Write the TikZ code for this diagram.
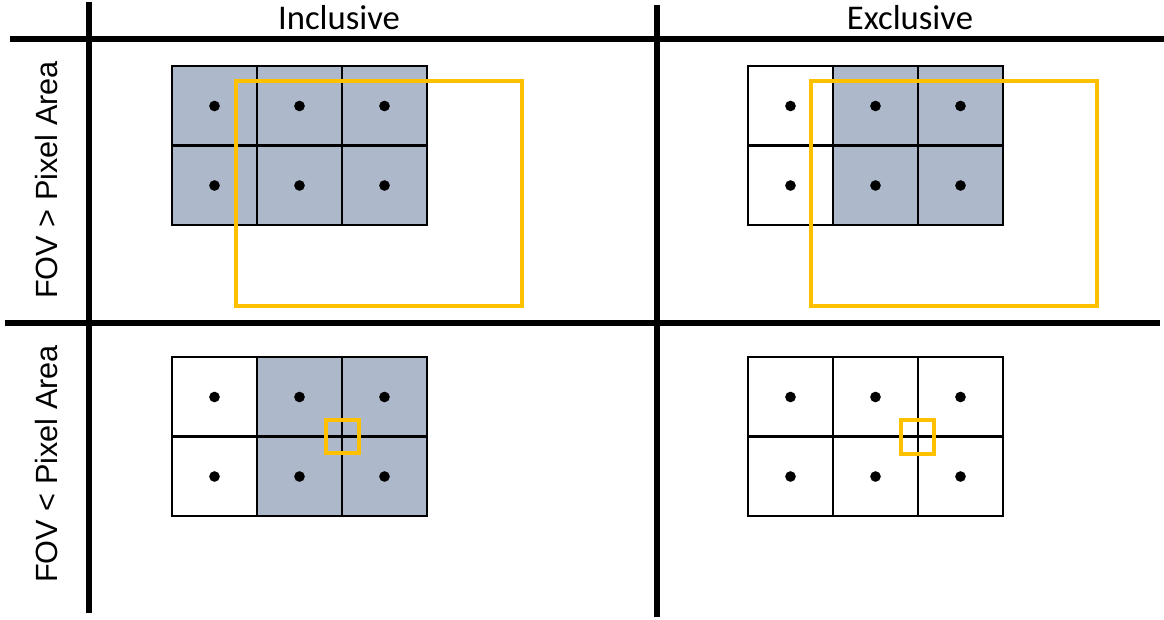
\documentclass[tikz,border=0pt]{standalone}
\usepackage{fontspec}
\setmainfont{Carlito}
\newfontfamily\labelfont{Liberation Sans}
\usetikzlibrary{positioning}
\definecolor{pixelgray}{HTML}{ADB9CA}
\definecolor{fovyellow}{HTML}{FFC000}

\begin{document}
\begin{tikzpicture}[x=0.75pt, y=-0.75pt,
    divider/.style={line width=5.2pt},
    pixel/.style={draw, line width=1.6pt},
    fov/.style={draw=fovyellow, line width=2.8pt},
    center/.style={circle, fill, inner sep=0pt, minimum size=8pt},
    heading/.style={font=\fontsize{26}{30}\selectfont},
    sidelabel/.style={font=\labelfont\fontsize{23}{27}\selectfont, rotate=90}]
    \useasboundingbox (0,0) rectangle (1164,620);
    % table lines
    \draw[divider] (10, 39) -- (1164, 39);
    \draw[divider] (5, 323) -- (1160, 323);
    \draw[divider] (89, 2) -- (89, 613);
    \draw[divider] (657, 5) -- (657, 617);
    % headings
    \node[heading] (inc) at (339, 18) {Inclusive};
    \node[heading] (exc) at (910, 18) {Exclusive};
    \node[sidelabel] (big) at (47, 180) {FOV > Pixel Area};
    \node[sidelabel] (small) at (47, 464) {FOV < Pixel Area};
    % pixel grids
    \foreach \gx/\gy/\fa/\fb/\fc/\g in {
        172/66/pixelgray/pixelgray/pixelgray/tl,
        748/66/white/pixelgray/pixelgray/tr,
        172/357/white/pixelgray/pixelgray/bl,
        748/357/white/white/white/br} {
        \foreach \col/\f in {0/\fa, 1/\fb, 2/\fc} {
            \foreach \row in {0, 1} {
                \draw[pixel, fill=\f] (\gx+\col*85, \gy+\row*79.5) rectangle ++(85, 79.5);
                \node[center] (\g-\col-\row) at (\gx+\col*85+42.5, \gy+\row*79.5+40) {};
            }
        }
    }
    % field of view
    \draw[fov] (236, 81) rectangle (522, 306);
    \draw[fov] (811, 81) rectangle (1097, 306);
    \draw[fov] (326, 420) rectangle (359, 453);
    \draw[fov] (901, 420) rectangle (934, 454);
\end{tikzpicture}
\end{document}
